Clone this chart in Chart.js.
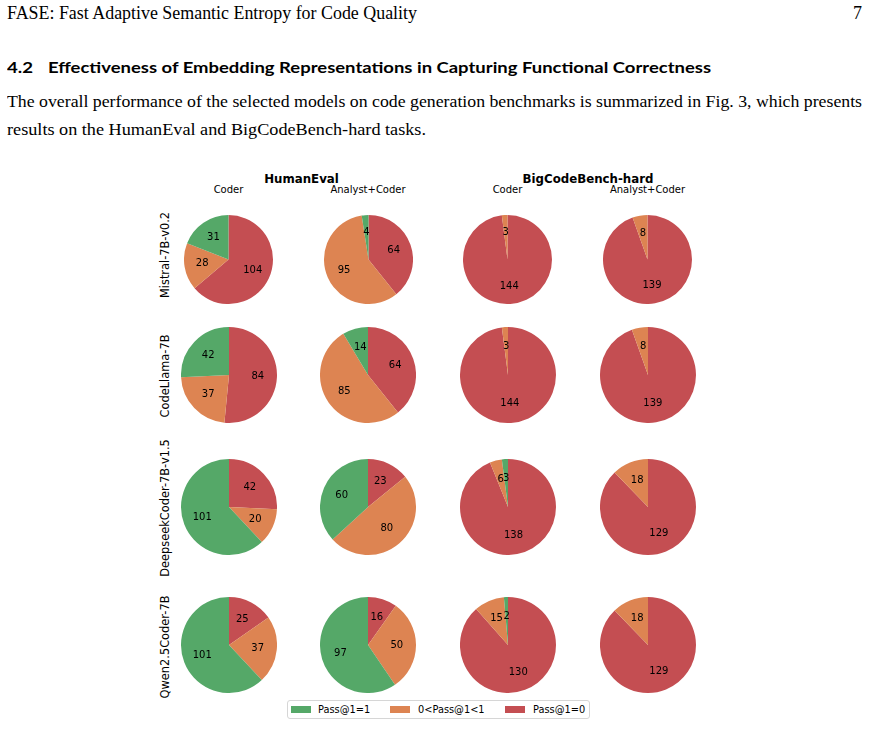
<!DOCTYPE html>
<html>
<head>
<meta charset="utf-8">
<title>FASE - Fig. 3</title>
<script src="https://cdn.jsdelivr.net/npm/chart.js@4.4.1/dist/chart.umd.min.js"></script>
<style>
  html, body { margin: 0; padding: 0; background: #fff; }
  #page { position: relative; width: 870px; height: 752px; overflow: hidden; }
  .txt { position: absolute; white-space: nowrap; line-height: 1; color: #000; }
  canvas.pie { position: absolute; }
  .legend-box { position: absolute; left: 287px; top: 700px; width: 301px; height: 17px;
                border: 1px solid #d6d6d6; border-radius: 3px; background: #fff; }
  .swatch { position: absolute; width: 20px; height: 7px; }
</style>
</head>
<body>
<div id="page"></div>
<script>
// ---- data ----
const models = ['Mistral-7B-v0.2', 'CodeLlama-7B', 'DeepseekCoder-7B-v1.5', 'Qwen2.5Coder-7B'];
const benchmarks = ['HumanEval', 'BigCodeBench-hard'];
const setups = ['Coder', 'Analyst+Coder'];
const outcomes = ['Pass@1=1', '0<Pass@1<1', 'Pass@1=0'];
const outcomeColors = ['#55A868', '#DD8452', '#C44E52'];

// each model: [HE Coder, HE Analyst+Coder, BCB Coder, BCB Analyst+Coder], counts in outcome order
const mistral   = [[31, 28, 104], [4, 95, 64], [0, 3, 144], [0, 8, 139]];
const codellama = [[42, 37, 84], [14, 85, 64], [0, 3, 144], [0, 8, 139]];
const deepseek  = [[101, 20, 42], [60, 80, 23], [3, 6, 138], [0, 18, 129]];
const qwen      = [[101, 37, 25], [97, 50, 16], [2, 15, 130], [0, 18, 129]];
const counts = [mistral, codellama, deepseek, qwen];

// ---- layout ----
const colX = [228.5, 368, 507.5, 647.5];
const rowY = [259.5, 375.3, 507, 645.3];
const rowR = [44.5, 48, 48, 48];
const rowLabelY = [255, 375.5, 507.5, 646.5];

const page = document.getElementById('page');

// place a text so that its baseline sits at y
function addText(str, x, y, font, opts = {}) {
  const el = document.createElement('span');
  el.className = 'txt';
  el.style.font = font;
  el.textContent = str;
  const mark = document.createElement('span');
  mark.style.cssText = 'display:inline-block;width:0;height:0;';
  el.appendChild(mark);
  el.style.left = '0px';
  el.style.top = '0px';
  page.appendChild(el);

  let w = el.getBoundingClientRect().width;
  const base = mark.offsetTop;
  const h = el.offsetHeight;
  if (opts.width) {
    el.style.transformOrigin = '0 0';
    el.style.transform = 'scaleX(' + (opts.width / w) + ')';
    w = opts.width;
  }
  if (opts.rotate) {
    // x = centre of the caps, y = centre along the text
    const fs = parseFloat(el.style.fontSize);
    const top = y - h / 2;
    const dy = (top + base - 0.365 * fs) - y;
    const ex = x - dy;
    el.style.top = top + 'px';
    el.style.left = (ex - w / 2) + 'px';
    el.style.transformOrigin = '50% 50%';
    el.style.transform = 'rotate(-90deg)';
    return el;
  }
  let left = x;
  if (opts.align === 'center') left = x - w / 2;
  if (opts.align === 'right') left = x - w;
  el.style.left = left + 'px';
  el.style.top = (y - base) + 'px';
  return el;
}

// ---- page text ----
const serif = '"Liberation Serif", serif';
addText('FASE: Fast Adaptive Semantic Entropy for Code Quality', 7, 19.3, '18px ' + serif, { width: 410 });
addText('7', 862, 19.3, '18px ' + serif, { align: 'right' });
addText('4.2', 7, 73.3, 'bold 14.5px Lato, sans-serif', { width: 26 });
addText('Effectiveness of Embedding Representations in Capturing Functional Correctness', 48, 73.3,
        'bold 14.5px Lato, sans-serif', { width: 663 });
addText('The overall performance of the selected models on code generation benchmarks is summarized in Fig. 3, which presents',
        7, 107.3, '17.5px ' + serif, { width: 855 });
addText('results on the HumanEval and BigCodeBench-hard tasks.', 7, 135, '17.5px ' + serif, { width: 419 });

// ---- figure titles ----
const figFont = '"DejaVu Sans", sans-serif';
addText(benchmarks[0], 301.5, 183.3, 'bold 11.8px ' + figFont, { align: 'center' });
addText(benchmarks[1], 588, 183.3, 'bold 11.8px ' + figFont, { align: 'center' });
for (let c = 0; c < 4; c++) {
  addText(setups[c % 2], colX[c], 192.8, '10px ' + figFont, { align: 'center' });
}
models.forEach((m, r) => {
  addText(m, 164.8, rowLabelY[r], '11.4px ' + figFont, { rotate: true });
});

// ---- pie labels plugin (like autopct at 0.6 r) ----
const sliceLabels = {
  id: 'sliceLabels',
  afterDatasetsDraw(chart) {
    const ctx = chart.ctx;
    const ds = chart.data.datasets[0];
    const meta = chart.getDatasetMeta(0);
    ctx.save();
    ctx.font = '10px "DejaVu Sans"';
    ctx.fillStyle = '#000';
    ctx.textAlign = 'center';
    ctx.textBaseline = 'middle';
    meta.data.forEach((arc, i) => {
      const v = ds.data[i];
      if (!v) return;
      const p = arc.getProps(['x', 'y', 'startAngle', 'endAngle', 'outerRadius']);
      const mid = (p.startAngle + p.endAngle) / 2;
      const rr = p.outerRadius * 0.6;
      ctx.fillText(String(v), p.x + Math.cos(mid) * rr, p.y + Math.sin(mid) * rr);
    });
    ctx.restore();
  }
};

// ---- the 16 pies ----
counts.forEach((row, r) => {
  row.forEach((vals, c) => {
    const rad = rowR[r];
    const cv = document.createElement('canvas');
    cv.className = 'pie';
    cv.width = rad * 2;
    cv.height = rad * 2;
    cv.style.left = (colX[c] - rad) + 'px';
    cv.style.top = (rowY[r] - rad) + 'px';
    page.appendChild(cv);

    // matplotlib draws counter-clockwise from the top, Chart.js clockwise: reverse order
    new Chart(cv, {
      type: 'pie',
      data: {
        labels: outcomes.slice().reverse(),
        datasets: [{
          data: vals.slice().reverse(),
          backgroundColor: outcomeColors.slice().reverse(),
          borderWidth: 0
        }]
      },
      options: {
        responsive: false,
        animation: false,
        events: [],
        layout: { padding: 0 },
        plugins: { legend: { display: false }, tooltip: { enabled: false } }
      },
      plugins: [sliceLabels]
    });
  });
});

// ---- legend ----
const box = document.createElement('div');
box.className = 'legend-box';
page.appendChild(box);
const swatchX = [291, 390, 505];
const labelX = [318, 418, 533];
outcomes.forEach((name, i) => {
  const sw = document.createElement('div');
  sw.className = 'swatch';
  sw.style.left = swatchX[i] + 'px';
  sw.style.top = '706px';
  sw.style.background = outcomeColors[i];
  page.appendChild(sw);
  addText(name, labelX[i], 713, '9.8px ' + figFont);
});
</script>
</body>
</html>
